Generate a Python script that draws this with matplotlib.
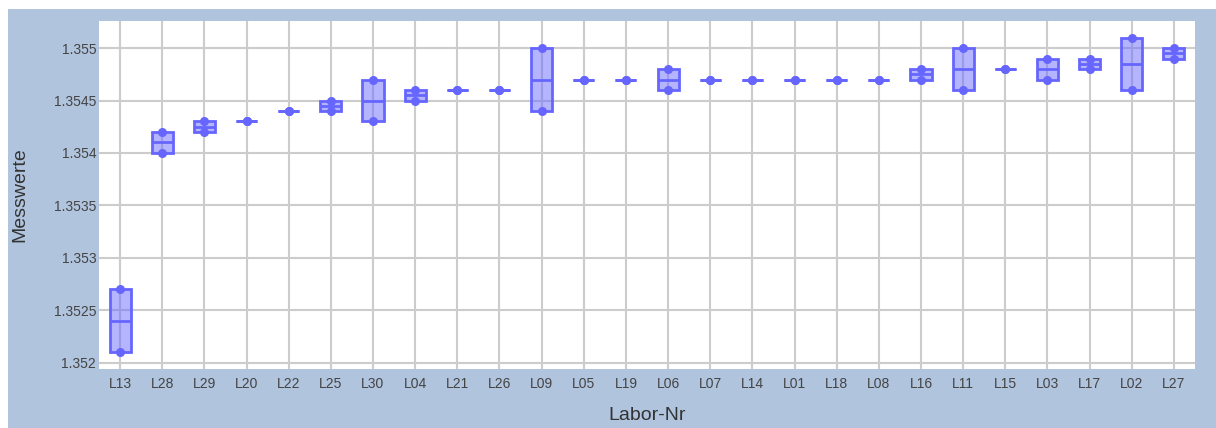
import matplotlib
matplotlib.use("Agg")
import matplotlib.pyplot as plt
from matplotlib.patches import Rectangle
import numpy as np

labs = ["L13", "L28", "L29", "L20", "L22", "L25", "L30", "L04", "L21", "L26",
        "L09", "L05", "L19", "L06", "L07", "L14", "L01", "L18", "L08", "L16",
        "L11", "L15", "L03", "L17", "L02", "L27"]
wert1 = [1.3521, 1.3540, 1.3542, 1.3543, 1.3544, 1.3544, 1.3543, 1.3545, 1.3546, 1.3546,
         1.3544, 1.3547, 1.3547, 1.3546, 1.3547, 1.3547, 1.3547, 1.3547, 1.3547, 1.3547,
         1.3546, 1.3548, 1.3547, 1.3548, 1.3546, 1.3549]
wert2 = [1.3527, 1.3542, 1.3543, 1.3543, 1.3544, 1.3545, 1.3547, 1.3546, 1.3546, 1.3546,
         1.3550, 1.3547, 1.3547, 1.3548, 1.3547, 1.3547, 1.3547, 1.3547, 1.3547, 1.3548,
         1.3550, 1.3548, 1.3549, 1.3549, 1.3551, 1.3550]
yticks = [1.352, 1.3525, 1.353, 1.3535, 1.354, 1.3545, 1.355]
ytick_labels = ["1.352", "1.3525", "1.353", "1.3535", "1.354", "1.3545", "1.355"]

plt.rcParams['font.family'] = ['Liberation Sans', 'DejaVu Sans']

W, H = 1216, 428
fig = plt.figure(figsize=(W / 100, H / 100), dpi=100, facecolor="white")
fig.patches.append(Rectangle((8 / W, 0), 1 - 8 / W, 419 / H, transform=fig.transFigure,
                             facecolor="#B0C4DE", edgecolor="none", zorder=-10))

ax = fig.add_axes([99 / W, 59 / H, (1195 - 99) / W, (407 - 59) / H])
ax.set_facecolor("white")
ax.set_zorder(1)

edge = "#6666ff"
fill = (0.42, 0.42, 1.0, 0.5)

stats = []
for name, a, b in zip(labs, wert1, wert2):
    lo, hi = min(a, b), max(a, b)
    stats.append(dict(label=name, med=(a + b) / 2, q1=lo, q3=hi, whislo=lo, whishi=hi,
                      fliers=[]))

pos = np.arange(len(labs))
ax.bxp(stats, positions=pos, widths=0.5, patch_artist=True, showfliers=False,
       boxprops=dict(facecolor=fill, edgecolor=edge, linewidth=2),
       medianprops=dict(color=edge, linewidth=2),
       whiskerprops=dict(linewidth=0), capprops=dict(linewidth=0), zorder=3)

ax.plot(pos, wert1, "o", color=edge, ms=5.5, zorder=4, mec=edge)
ax.plot(pos, wert2, "o", color=edge, ms=5.5, zorder=4, mec=edge)

ax.set_xlim(-0.5, len(labs) - 0.5)
ax.set_ylim(1.35194, 1.355258)
ax.set_xticks(pos)
ax.set_xticklabels(labs)
ax.set_yticks(yticks)
ax.set_yticklabels(ytick_labels)

ax.grid(True, color="#cccccc", linewidth=1.5, zorder=0)
ax.set_axisbelow(True)
for s in ax.spines.values():
    s.set_visible(False)
ax.tick_params(axis="both", length=0, labelsize=10, labelcolor="#444444")
ax.tick_params(axis="x", pad=6)
ax.tick_params(axis="y", pad=2)

ax.set_xlabel("Labor-Nr", fontsize=14, color="#333333")
ax.set_ylabel("Messwerte", fontsize=14, color="#333333")
ax.yaxis.set_label_coords(-(99 - 20) / (1195 - 99), 0.5)
ax.xaxis.set_label_coords(0.5, -(415 - 369) / (407 - 59))
ax.xaxis.label.set_va("center")
ax.yaxis.label.set_va("center")

fig.savefig("out.png", dpi=100, facecolor=fig.get_facecolor())
